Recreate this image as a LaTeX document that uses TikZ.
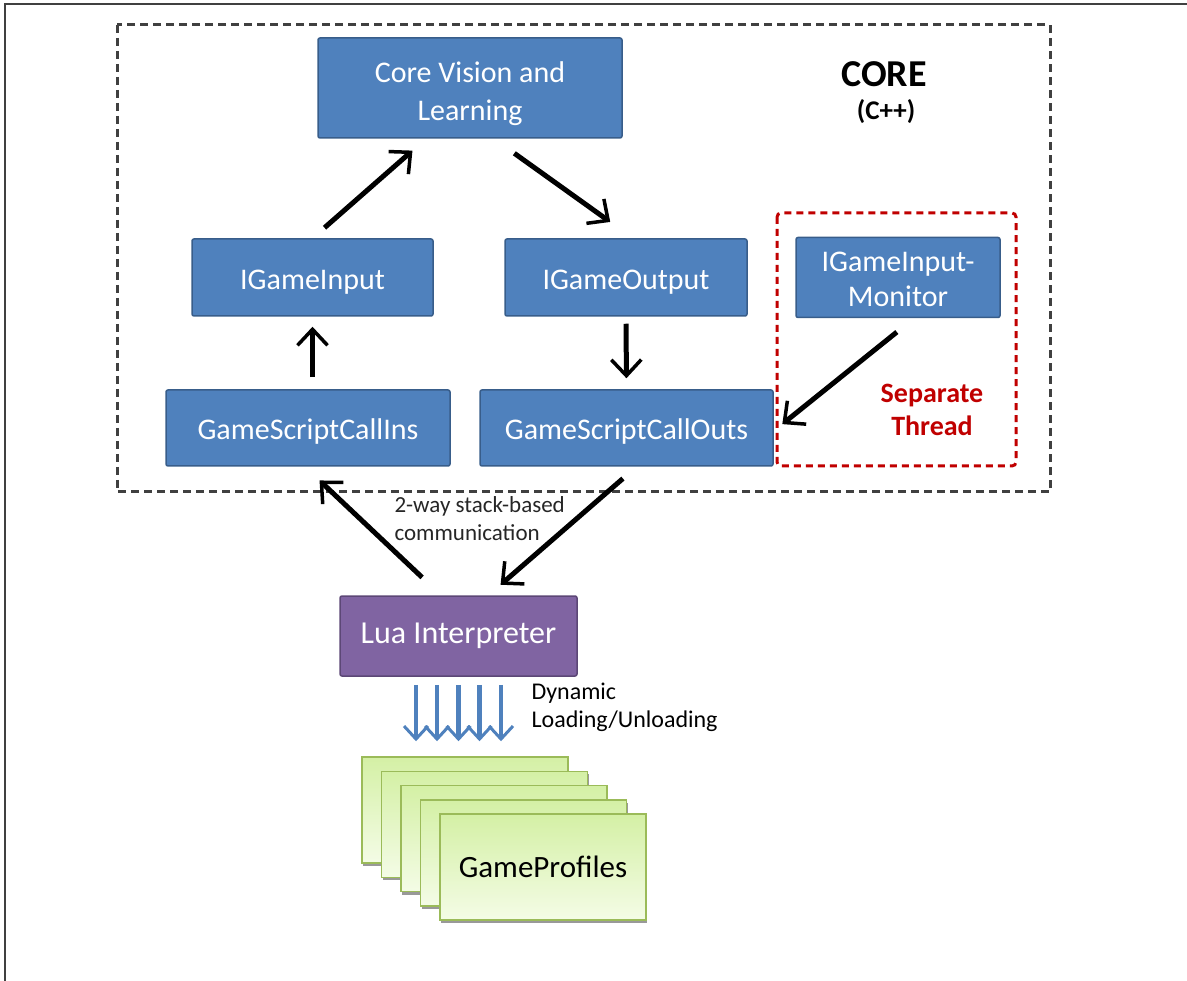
\documentclass[tikz,border=0pt]{standalone}
\usepackage{fontspec}
\setmainfont{Carlito}
\usetikzlibrary{arrows.meta,shadows}

\definecolor{boxblue}{HTML}{4F81BD}
\definecolor{blueedge}{HTML}{385D8A}
\definecolor{luafill}{HTML}{8064A2}
\definecolor{luaedge}{HTML}{5C4776}
\definecolor{threadred}{HTML}{C00000}
\definecolor{gtop}{RGB}{212,240,165}
\definecolor{gbot}{RGB}{244,252,230}
\definecolor{gedge}{HTML}{9BBB59}

% pushes the first line of a box label down a little
\newcommand{\boxlift}[1]{\rule{0pt}{#1}}

\tikzset{
  blk/.style={draw=blueedge, line width=1.5pt, fill=boxblue, rounded corners=2pt,
    text=white, font=\fontsize{30}{38}\selectfont, align=center, inner sep=0pt},
  luabox/.style={draw=luaedge, line width=1.5pt, fill=luafill, rounded corners=2pt,
    text=white, font=\fontsize{32}{36}\selectfont, inner sep=0pt,
    minimum width=237pt, minimum height=80pt},
  profile/.style={draw=gedge, line width=1.5pt, top color=gtop, bottom color=gbot,
    minimum width=206pt, minimum height=106pt, inner sep=0pt,
    font=\fontsize{31}{36}\selectfont,
    drop shadow={shadow xshift=1pt, shadow yshift=-3pt, fill=black!40, opacity=1}},
  arr/.style={-{Straight Barb[length=16pt, width=30pt, line width=3.5pt]}, line width=5pt},
  loadarr/.style={-{Straight Barb[length=13pt, width=24pt, line width=3pt]},
    line width=4.5pt, draw=boxblue},
  note/.style={font=\fontsize{24}{28}\selectfont, align=left, anchor=west}
}

\begin{document}
\begin{tikzpicture}[x=1pt, y=-1pt]
  \useasboundingbox (0,0) rectangle (1187,981);
  % page frame
  \draw[black!75, line width=1.5pt] (5,981) -- (5,4) -- (1187,4);

  % core region
  \draw[black!75, line width=3pt, dash pattern=on 8pt off 5pt] (117,25) rectangle (1050,492);
  \node[font=\bfseries\fontsize{38}{40}\selectfont] at (884,74) (core) {CORE};
  \node[font=\bfseries\fontsize{27}{28}\selectfont] at (886,112) (cpp) {(C++)};

  % separate thread region
  \draw[threadred, line width=3pt, dash pattern=on 7pt off 5pt, rounded corners=4pt]
    (777,213) rectangle (1016,466);
  \node[text=threadred, font=\bfseries\fontsize{28}{33}\selectfont, align=center]
    at (932,410) (sep) {Separate\\Thread};

  \node[blk, minimum width=304pt, minimum height=100pt] at (470,88) (cvl)
    {\boxlift{38pt}Core Vision and\\\strut Learning};
  \node[blk, minimum width=241pt, minimum height=77pt] at (312.5,277.5) (igi)
    {\boxlift{35pt}IGameInput\strut};
  \node[blk, minimum width=242pt, minimum height=77pt] at (626,277.5) (igo)
    {\boxlift{35pt}IGameOutput\strut};
  \node[blk, minimum width=204pt, minimum height=77pt, font=\fontsize{30}{35}\selectfont]
    at (898,277.5) (mon) {\boxlift{34.5pt}IGameInput-\\\strut Monitor};
  \node[blk, minimum width=284pt, minimum height=76pt] at (308,428) (gsci)
    {\boxlift{35pt}GameScriptCallIns\strut};
  \node[blk, minimum width=293pt, minimum height=76pt] at (626.5,428) (gsco)
    {\boxlift{35pt}GameScriptCallOuts\strut};

  \node[luabox] at (458.5,636) (lua) {\strut Lua Interpreter};

  % game profiles stack
  \foreach \i in {0,...,3}
    \node[profile] at (465+19.5*\i, 810+14.3*\i) (p\i) {};
  \node[profile] at (543,867) (p4) {\boxlift{32pt}GameProfiles\strut};

  \node[note, text=black!85, font=\fontsize{23}{28}\selectfont] at (391,519) (comm)
    {2-way stack-based\\communication};
  \node[note] at (528,707) (load) {Dynamic\\Loading/Unloading};

  \draw[arr, shorten <=16pt, shorten >=18pt] (igi.north) -- ([xshift=-44pt]cvl.south);
  \draw[arr, shorten <=25pt, shorten >=28pt] ([xshift=24pt]cvl.south) -- ([xshift=7pt]igo.north);
  \draw[arr, shorten <=12pt, shorten >=10pt] (gsci.north -| igi.south) -- (igi.south);
  \draw[arr, shorten <=7pt, shorten >=11pt] (igo.south) -- (gsco.north);
  \draw[arr, shorten <=22pt, shorten >=11pt] ([xshift=16pt]mon.south) -- ([yshift=-3pt]gsco.east);
  \draw[arr, shorten <=26pt, shorten >=20pt] ([xshift=-17.5pt]lua.north) -- ([xshift=-3pt]gsci.south);
  \draw[arr, shorten <=18pt, shorten >=16pt] ([xshift=10pt]gsco.south) -- ([xshift=30pt]lua.north);

  \foreach \dx in {-42.5,-21.5,0,21,42.5}
    \draw[loadarr, shorten <=8pt, shorten >=15pt] ([xshift=\dx pt]lua.south) -- ([xshift=\dx pt]lua.south |- p0.north);
\end{tikzpicture}
\end{document}
